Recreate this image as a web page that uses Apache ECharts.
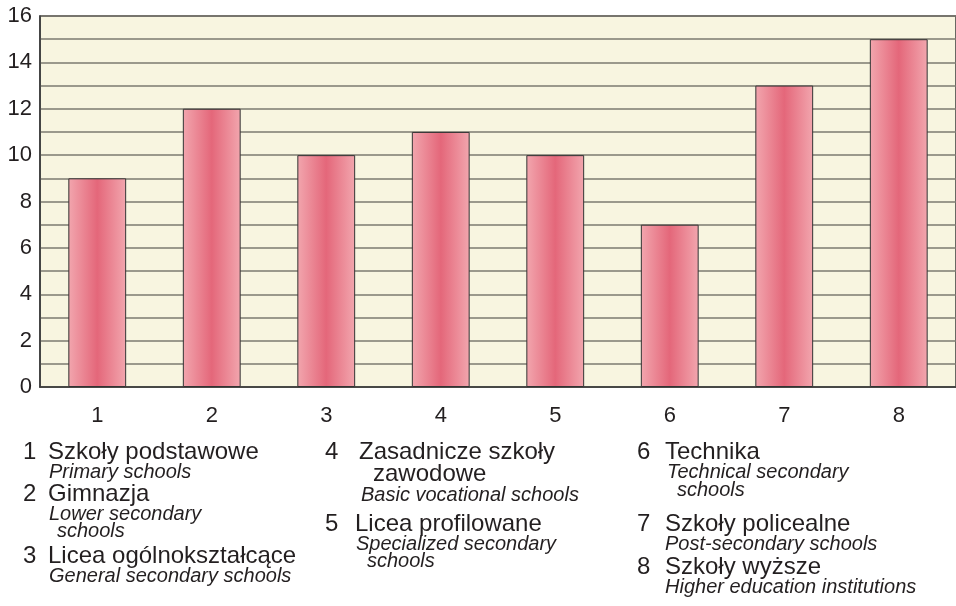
<!DOCTYPE html>
<html>
<head>
<meta charset="utf-8">
<script src="https://cdn.jsdelivr.net/npm/echarts@6/dist/echarts.min.js"></script>
<style>
  html, body { margin: 0; padding: 0; background: #fff; }
  #chart { width: 956px; height: 606px; }
</style>
</head>
<body>
<div id="chart"></div>
<script>
const categories = ['1', '2', '3', '4', '5', '6', '7', '8']
const values = [9, 12, 10, 11, 10, 7, 13, 15]
const yTicks = [0, 2, 4, 6, 8, 10, 12, 14, 16]

// legend: number, polish name (may wrap), english name (may wrap)
const legendNumbers = ['1', '2', '3', '4', '5', '6', '7', '8']
const legendPolish = [
  ['Szkoły podstawowe'],
  ['Gimnazja'],
  ['Licea ogólnokształcące'],
  ['Zasadnicze szkoły', 'zawodowe'],
  ['Licea profilowane'],
  ['Technika'],
  ['Szkoły policealne'],
  ['Szkoły wyższe']
]
const legendEnglish = [
  ['Primary schools'],
  ['Lower secondary', 'schools'],
  ['General secondary schools'],
  ['Basic vocational schools'],
  ['Specialized secondary', 'schools'],
  ['Technical secondary', 'schools'],
  ['Post-secondary schools'],
  ['Higher education institutions']
]

const font = 'Liberation Sans, Arial, sans-serif'
const textColor = '#231f20'

// text placement of each legend block: x of number, x and y of every line
const legendLayout = [
  { nx: 23, pl: [[48, 452]], en: [[49, 472.5]] },
  { nx: 23, pl: [[48, 494]], en: [[49, 514], [57, 531]] },
  { nx: 23, pl: [[48, 556]], en: [[49, 576]] },
  { nx: 325, pl: [[359, 452], [373, 474]], en: [[361, 495]] },
  { nx: 325, pl: [[355, 524]], en: [[356, 544], [367, 561]] },
  { nx: 637, pl: [[665, 452]], en: [[667, 472.5], [677, 490]] },
  { nx: 637, pl: [[665, 524]], en: [[665, 544]] },
  { nx: 637, pl: [[665, 567]], en: [[665, 587]] }
]

const graphics = []
legendLayout.forEach((l, i) => {
  graphics.push({
    type: 'text', x: l.nx, y: l.pl[0][1],
    style: { text: legendNumbers[i], font: '24px ' + font, fill: textColor, verticalAlign: 'middle' }
  })
  legendPolish[i].forEach((t, k) => {
    graphics.push({
      type: 'text', x: l.pl[k][0], y: l.pl[k][1],
      style: { text: t, font: '24px ' + font, fill: textColor, verticalAlign: 'middle' }
    })
  })
  legendEnglish[i].forEach((t, k) => {
    graphics.push({
      type: 'text', x: l.en[k][0], y: l.en[k][1],
      style: { text: t, font: 'italic 20px ' + font, fill: textColor, verticalAlign: 'middle' }
    })
  })
})

const chart = echarts.init(document.getElementById('chart'))
chart.setOption({
  animation: false,
  grid: {
    left: 40, top: 16, width: 926, height: 371,
    show: true, backgroundColor: '#f8f5e0', borderColor: '#3a3a3a', borderWidth: 1.5
  },
  xAxis: {
    type: 'category',
    data: categories,
    axisLine: { lineStyle: { color: '#3a3a3a', width: 1.5 } },
    axisTick: { show: false },
    axisLabel: { fontSize: 22, fontFamily: font, color: textColor, margin: 18 }
  },
  yAxis: {
    type: 'value',
    min: 0,
    max: 16,
    interval: 1,
    axisLine: { show: true, lineStyle: { color: '#3a3a3a', width: 1.5 } },
    axisTick: { show: false },
    splitLine: { lineStyle: { color: '#7d7a70', width: 1.5 } },
    axisLabel: {
      fontSize: 22, fontFamily: font, color: textColor, margin: 8,
      formatter: v => (yTicks.indexOf(v) >= 0 ? String(v) : '')
    }
  },
  series: [{
    type: 'bar',
    data: values,
    barWidth: '50.5%',
    itemStyle: {
      borderColor: '#333',
      borderWidth: 1,
      color: new echarts.graphic.LinearGradient(0, 0, 1, 0, [
        { offset: 0, color: '#f2a6ae' },
        { offset: 0.5, color: '#e4677a' },
        { offset: 1, color: '#f2a6ae' }
      ])
    }
  }],
  graphic: graphics
})
</script>
</body>
</html>
